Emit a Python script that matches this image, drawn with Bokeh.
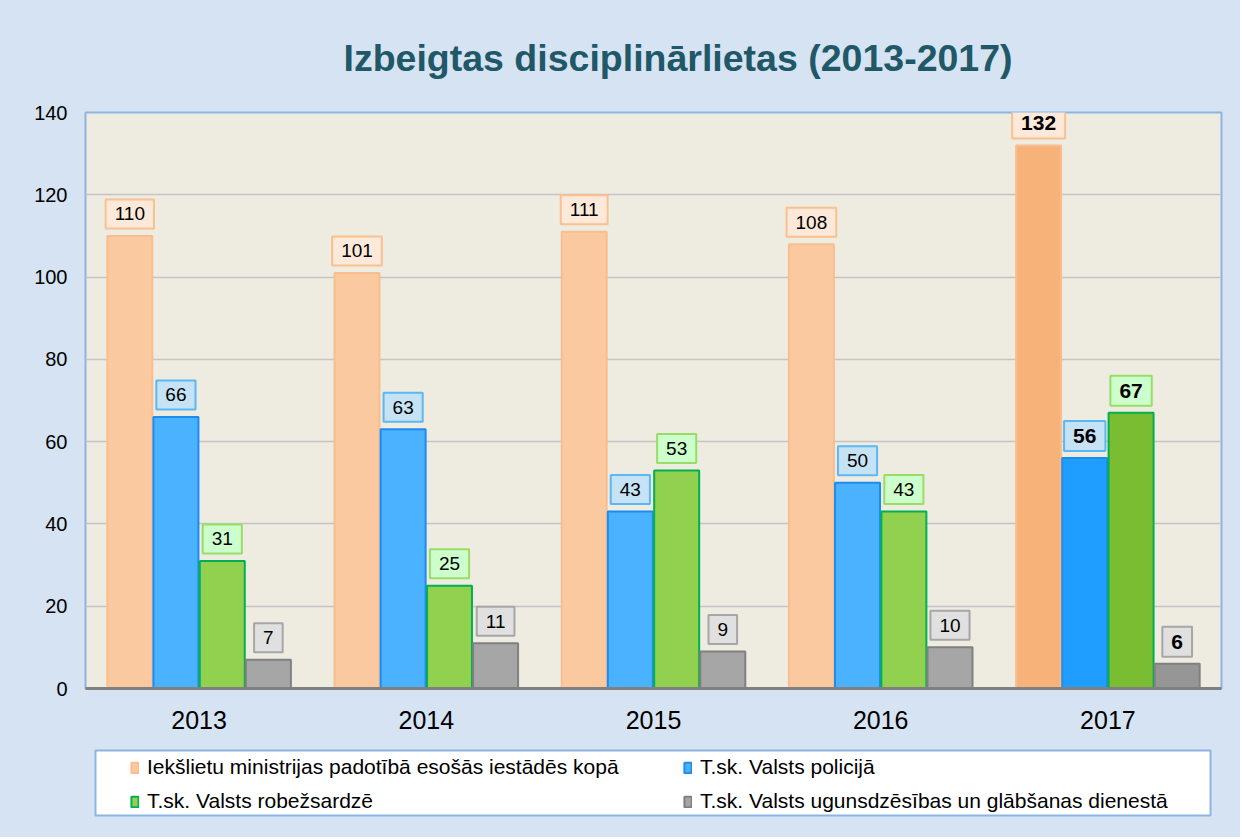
from bokeh.plotting import figure
from bokeh.models import ColumnDataSource, FactorRange, Range1d, Legend, LegendItem, BoxAnnotation
from bokeh.layouts import column
from bokeh.transform import dodge
from bokeh.core.properties import value
from bokeh.embed import file_html
from bokeh.resources import INLINE

years = ["2013", "2014", "2015", "2016", "2017"]
kopa = [110, 101, 111, 108, 132]
policija = [66, 63, 43, 50, 56]
robezsardze = [31, 25, 53, 43, 67]
ugunsdzesiba = [7, 11, 9, 10, 6]

series_names = [
    "Iekšlietu ministrijas padotībā esošās iestādēs kopā",
    "T.sk. Valsts policijā",
    "T.sk. Valsts robežsardzē",
    "T.sk. Valsts ugunsdzēsības un glābšanas dienestā",
]
series_vals = [kopa, policija, robezsardze, ugunsdzesiba]
bar_fill = ["#FAC9A0", "#4BB2FF", "#92D050", "#A6A6A6"]
bar_fill_last = ["#F7B27A", "#1F9EFF", "#7ABD33", "#969696"]
bar_line = ["#F9BE8F", "#1C8CF0", "#00B050", "#808080"]
lbl_fill = ["#FDE9D9", "#C5E3F5", "#CCFFCC", "#E0E0E0"]
lbl_line = ["#FAC090", "#5BB8F5", "#99DD66", "#A6A6A6"]
offsets = [-0.305, -0.102, 0.102, 0.305]

FONT = "Liberation Sans"
BG = "#D6E3F3"

p = figure(
    width=1240, height=742,
    x_range=FactorRange(*years), y_range=Range1d(0, 140),
    output_backend="svg", toolbar_location=None,
    min_border_left=85, min_border_right=19, min_border_top=110, min_border_bottom=54,
    background_fill_color="#EEEBE0", border_fill_color=BG,
)
p.title.text = "Izbeigtas disciplinārlietas (2013-2017)"
p.title.text_font = FONT
p.title.text_font_size = "37.5px"
p.title.text_font_style = "bold"
p.title.text_color = "#215868"
p.title.text_line_height = 1.0
p.title.align = "left"
p.title.offset = 258
p.title.standoff = 68

p.outline_line_color = "#8DB4E2"
p.outline_line_width = 2

p.xgrid.grid_line_color = None
p.ygrid.grid_line_color = "#C4C4C4"
p.ygrid.grid_line_width = 1.5

p.yaxis.ticker = [0, 20, 40, 60, 80, 100, 120, 140]
p.yaxis.axis_line_color = None
p.yaxis.major_tick_line_color = None
p.yaxis.minor_tick_line_color = None
p.yaxis.major_label_text_font = FONT
p.yaxis.major_label_text_font_size = "20px"
p.yaxis.major_label_text_color = "#000000"
p.yaxis.major_label_standoff = 12

p.xaxis.axis_line_color = "#808080"
p.xaxis.axis_line_width = 3
p.xaxis.major_tick_line_color = None
p.xaxis.minor_tick_line_color = None
p.xaxis.major_label_text_font = FONT
p.xaxis.major_label_text_font_size = "25px"
p.xaxis.major_label_text_color = "#000000"
p.xaxis.major_label_standoff = 16

# legend strip below the chart (same horizontal frame as the chart)
lf = figure(
    width=1240, height=95,
    x_range=Range1d(0, 1136), y_range=Range1d(0, 69),
    x_axis_type=None, y_axis_type=None,
    output_backend="svg", toolbar_location=None,
    min_border_left=85, min_border_right=19, min_border_top=6, min_border_bottom=20,
    background_fill_color=BG, border_fill_color=BG,
)
lf.outline_line_color = None
lf.xgrid.grid_line_color = None
lf.ygrid.grid_line_color = None
lf.add_layout(BoxAnnotation(left=10, right=1125, bottom=2, top=67,
                            fill_color="#FFFFFF", fill_alpha=1.0,
                            line_color="#8DB4E2", line_alpha=1.0, line_width=2,
                            level="underlay"))

legend_renderers = []
for i in range(4):
    vals = series_vals[i]
    fills = [bar_fill[i]] * 4 + [bar_fill_last[i]]
    styles = ["normal"] * 4 + ["bold"]
    sizes = ["19px"] * 4 + ["21px"]
    src = ColumnDataSource(dict(year=years, val=vals, fill=fills,
                                lbl=[str(v) for v in vals], style=styles, size=sizes))
    p.vbar(x=dodge("year", offsets[i], range=p.x_range), top="val", width=0.198,
           source=src, fill_color="fill", line_color=bar_line[i], line_width=2)
    p.text(x=dodge("year", offsets[i], range=p.x_range), y="val", text="lbl", source=src,
           y_offset=-22, text_align="center", text_baseline="middle",
           text_font=value(FONT), text_font_size="size", text_font_style="style",
           text_color="#000000",
           background_fill_color=lbl_fill[i], border_line_color=lbl_line[i],
           border_line_width=2, padding=(9, 8))
    # hidden stand-in renderer in the legend strip, used only for the legend swatch
    lr = lf.vbar(x=list(range(len(vals))), top=vals, width=0.2,
                 fill_color=bar_fill[i], line_color=bar_line[i], line_width=2,
                 visible=False)
    legend_renderers.append(lr)

order = [0, 2, 1, 3]  # column-major fill -> row-major appearance
items = [LegendItem(label=series_names[i], renderers=[legend_renderers[i]], index=0)
         for i in order]

legend = Legend(items=items, ncols=2, location=(45, 4),
                label_text_font=FONT, label_text_font_size="21px",
                label_text_color="#000000",
                glyph_width=9, glyph_height=13, label_standoff=8,
                label_width=526, label_height=20, spacing=10, padding=0, margin=0,
                border_line_color=None, background_fill_alpha=0.0,
                inactive_fill_alpha=0.0)
lf.add_layout(legend, "center")

layout = column(p, lf, spacing=0, styles={"background-color": BG})
open("out.html", "w").write(file_html(layout, INLINE))
